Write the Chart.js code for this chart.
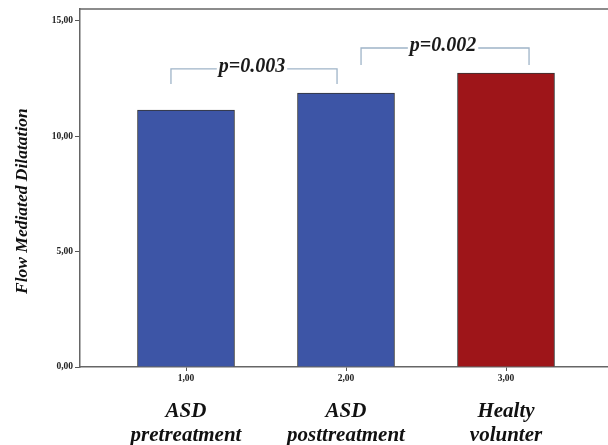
<!DOCTYPE html>
<html>
<head>
<meta charset="utf-8">
<script src="https://cdn.jsdelivr.net/npm/chart.js@4"></script>
<style>
  html, body { margin: 0; padding: 0; background: #fff; }
  #wrap { width: 608px; height: 445px; }
</style>
</head>
<body>
<div id="wrap"><canvas id="fmdChart"></canvas></div>
<script>
var groups = [1, 2, 3];
var groupNames = [['ASD', 'pretreatment'], ['ASD', 'posttreatment'], ['Healty', 'volunter']];
var fmdValues = [11.14, 11.88, 12.74];
var barColors = ['#3d55a6', '#3d55a6', '#9e1519'];
var yTicks = [0, 5, 10, 15];
var comparisons = [
  { from: 0.906, to: 1.944, top: 12.92, drop: 12.27, label: 'p=0.003' },
  { from: 2.094, to: 3.144, top: 13.83, drop: 13.09, label: 'p=0.002' }
];

var serif = "'Liberation Serif', 'DejaVu Serif', serif";

function comma(v) {
  return Number(v).toFixed(2).replace('.', ',');
}

// top frame line + significance brackets
var extras = {
  id: 'extras',
  afterDatasetsDraw: function(chart) {
    var ctx = chart.ctx;
    var area = chart.chartArea;
    var x = chart.scales.x;
    var y = chart.scales.y;
    ctx.save();
    ctx.strokeStyle = '#666';
    ctx.lineWidth = 1.5;
    ctx.beginPath();
    ctx.moveTo(area.left, area.top);
    ctx.lineTo(area.right, area.top);
    ctx.stroke();

    ctx.font = 'italic bold 20px ' + serif;
    ctx.textAlign = 'center';
    ctx.textBaseline = 'middle';
    for (var i = 0; i < comparisons.length; i++) {
      var c = comparisons[i];
      var x1 = x.getPixelForValue(c.from);
      var x2 = x.getPixelForValue(c.to);
      var yt = y.getPixelForValue(c.top);
      var yd = y.getPixelForValue(c.drop);
      ctx.strokeStyle = '#9fb4c8';
      ctx.lineWidth = 1.3;
      ctx.beginPath();
      ctx.moveTo(x1, yd);
      ctx.lineTo(x1, yt);
      ctx.lineTo(x2, yt);
      ctx.lineTo(x2, yd);
      ctx.stroke();
      var mid = (x1 + x2) / 2 - 2;
      var w = ctx.measureText(c.label).width;
      ctx.fillStyle = '#fff';
      ctx.fillRect(mid - w / 2 - 2, yt - 8, w + 4, 14);
      ctx.fillStyle = '#1a1a1a';
      ctx.fillText(c.label, mid, yt - 2);
    }
    ctx.restore();
  }
};

var ctx = document.getElementById('fmdChart').getContext('2d');
var chart = new Chart(ctx, {
  type: 'bar',
  data: {
    datasets: [{
      data: groups.map(function(g, i) { return { x: g, y: fmdValues[i] }; }),
      backgroundColor: barColors,
      borderColor: '#333',
      borderWidth: 1,
      barThickness: 97
    }]
  },
  options: {
    responsive: true,
    maintainAspectRatio: false,
    animation: false,
    layout: { padding: { top: 9, right: 0, left: 0, bottom: 0 } },
    plugins: {
      legend: { display: false },
      tooltip: { enabled: false }
    },
    scales: {
      x: {
        type: 'linear',
        position: 'bottom',
        weight: 0,
        offset: false,
        min: 0.3375,
        max: 3.6375,
        afterBuildTicks: function(scale) {
          scale.ticks = groups.map(function(v) { return { value: v }; });
        },
        afterFit: function(scale) { scale.height = 18; },
        grid: { drawOnChartArea: false, offset: false, tickLength: 4, color: '#555' },
        border: { color: '#666', width: 1.5 },
        ticks: {
          padding: 2,
          color: '#222',
          font: { family: serif, size: 9.5, weight: 'bold' },
          callback: function(v) { return comma(v); }
        }
      },
      x2: {
        type: 'linear',
        position: 'bottom',
        weight: 1,
        offset: false,
        min: 0.3375,
        max: 3.6375,
        afterBuildTicks: function(scale) {
          scale.ticks = groups.map(function(v) { return { value: v }; });
        },
        afterFit: function(scale) { scale.height = 60; },
        grid: { display: false, drawTicks: false, offset: false },
        border: { display: false },
        ticks: {
          padding: 15,
          color: '#111',
          maxRotation: 0,
          autoSkip: false,
          font: { family: serif, size: 21, weight: 'bold', style: 'italic', lineHeight: 1.14 },
          callback: function(v, i) { return groupNames[i]; }
        }
      },
      y: {
        min: 0,
        max: 15.52,
        afterBuildTicks: function(scale) {
          scale.ticks = yTicks.map(function(v) { return { value: v }; });
        },
        afterFit: function(scale) { scale.width = 80; },
        grid: { drawOnChartArea: false, tickLength: 5, color: '#555' },
        border: { color: '#666', width: 1.5 },
        ticks: {
          padding: 2,
          color: '#222',
          font: { family: serif, size: 9.5, weight: 'bold' },
          callback: function(v) { return comma(v); }
        },
        title: {
          display: true,
          text: 'Flow Mediated Dilatation      ',
          color: '#111',
          padding: { top: 12, bottom: 0 },
          font: { family: serif, size: 17.5, weight: 'bold', style: 'italic' }
        }
      }
    }
  },
  plugins: [extras]
});
</script>
</body>
</html>
